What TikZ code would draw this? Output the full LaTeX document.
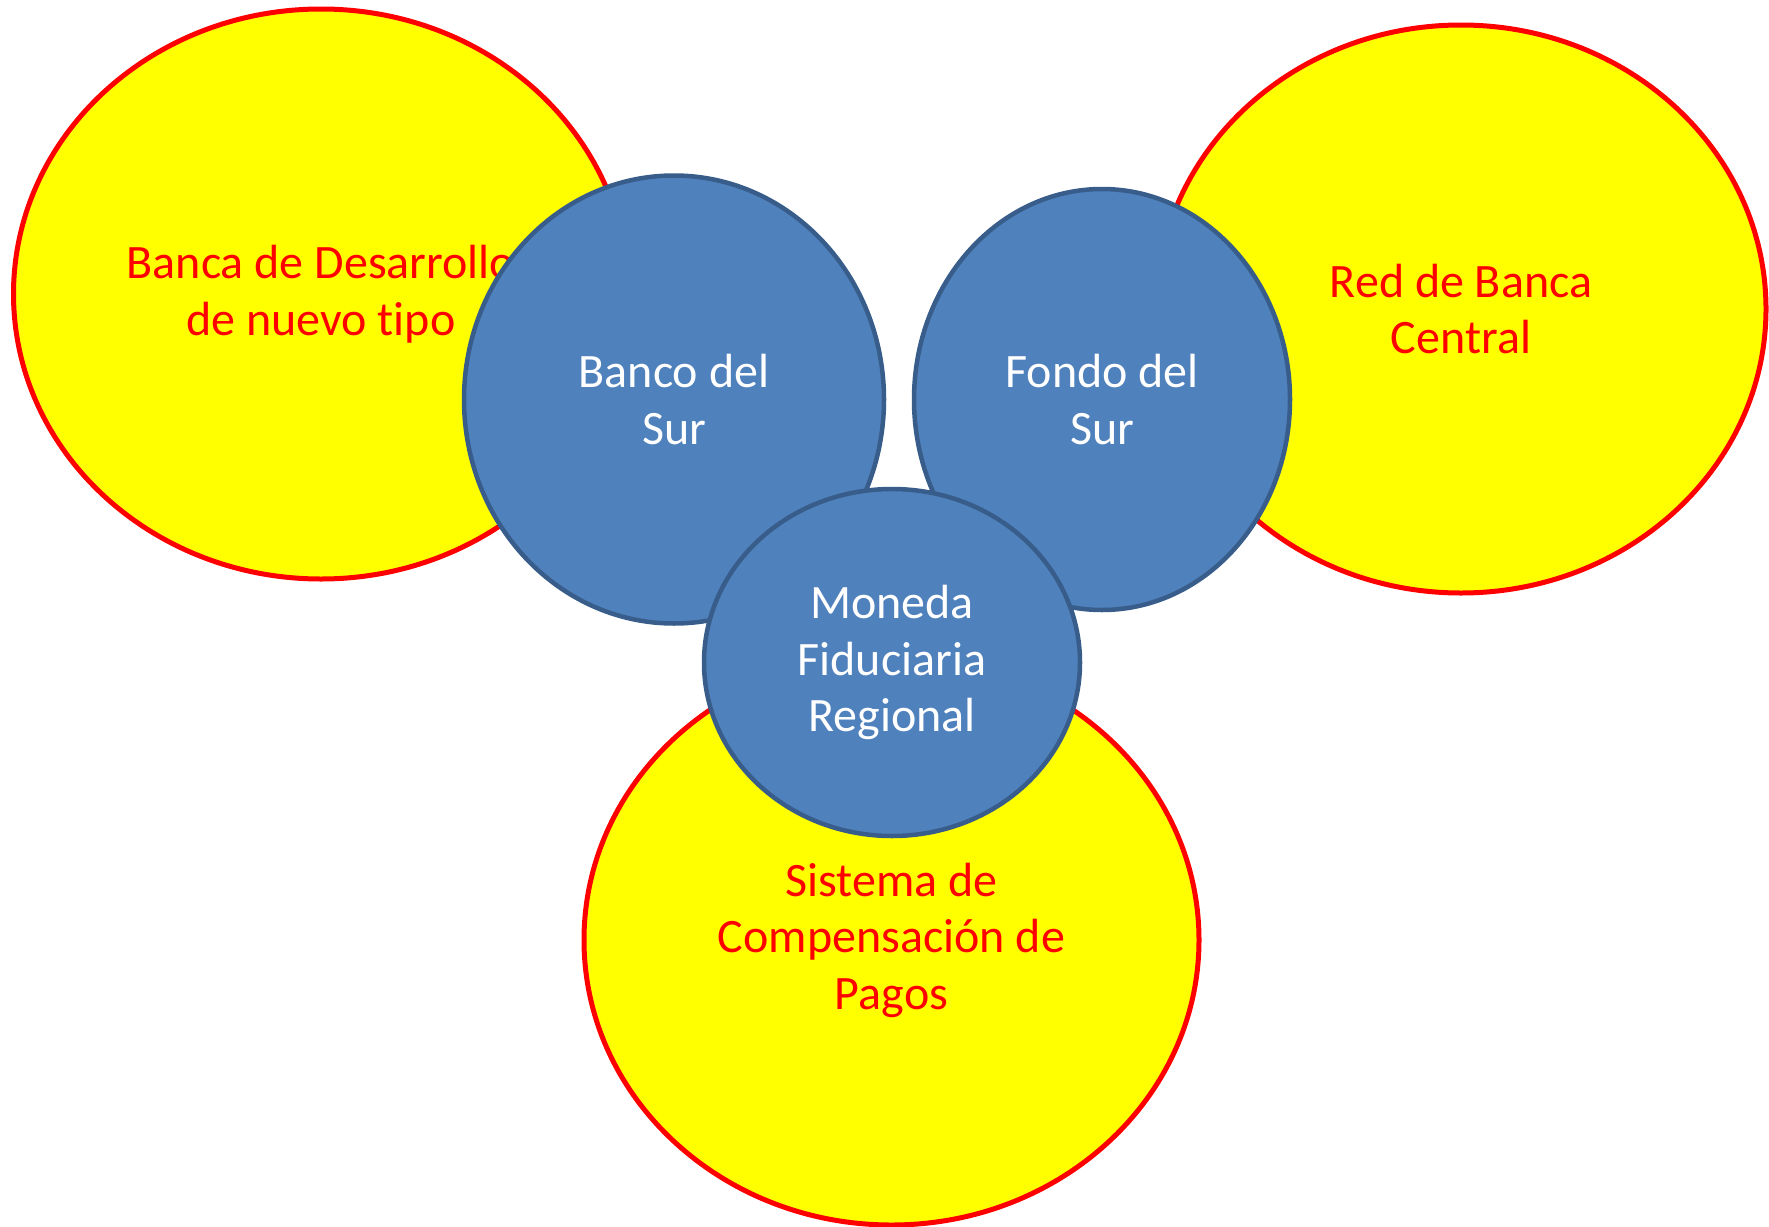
\documentclass[tikz,border=0pt]{standalone}
\usepackage{fontspec}
\setmainfont{Carlito}[Ligatures=NoCommon]
\usetikzlibrary{shapes.geometric}

\definecolor{amarillo}{HTML}{FFFF00}
\definecolor{azul}{HTML}{4F81BD}
\definecolor{azulborde}{HTML}{385D8A}

\begin{document}
\begin{tikzpicture}[x = 1pt, y = -1pt]
      \tikzset{Circulo/.style = {ellipse, inner sep = 0pt, align = center,
      font = \fontsize{48}{56.5}\selectfont},
      Anillo/.style = {Circulo, fill = amarillo, draw = red, line width = 5pt,
      text = red},
      Nucleo/.style = {Circulo, fill = azul, draw = azulborde, line width = 4.5pt,
      text = white}}
      \useasboundingbox (0,0) rectangle (1769,1226);
      % anillos exteriores
      \node[Anillo, minimum width = 615pt, minimum height = 570pt]
        (desarrollo) at (321,294) {Banca de Desarrollo\\de nuevo tipo};
      \node[Anillo, minimum width = 610pt, minimum height = 568pt]
        (redbanca) at (1461,309) {Red de Banca\\Central};
      \node[Anillo, minimum width = 615pt, minimum height = 570pt]
        (compensacion) at (891.5,940) {Sistema de\\Compensación de\\Pagos};
      % nucleos
      \node[Nucleo, minimum width = 420pt, minimum height = 448pt]
        (banco) at (674,399.5) {Banco del\\Sur};
      \node[Nucleo, minimum width = 376pt, minimum height = 421pt]
        (fondo) at (1102,399.5) {Fondo del\\Sur};
      \node[Nucleo, minimum width = 376pt, minimum height = 347pt]
        (moneda) at (892,662.5) {Moneda\\Fiduciaria\\Regional};
    \end{tikzpicture}
\end{document}
